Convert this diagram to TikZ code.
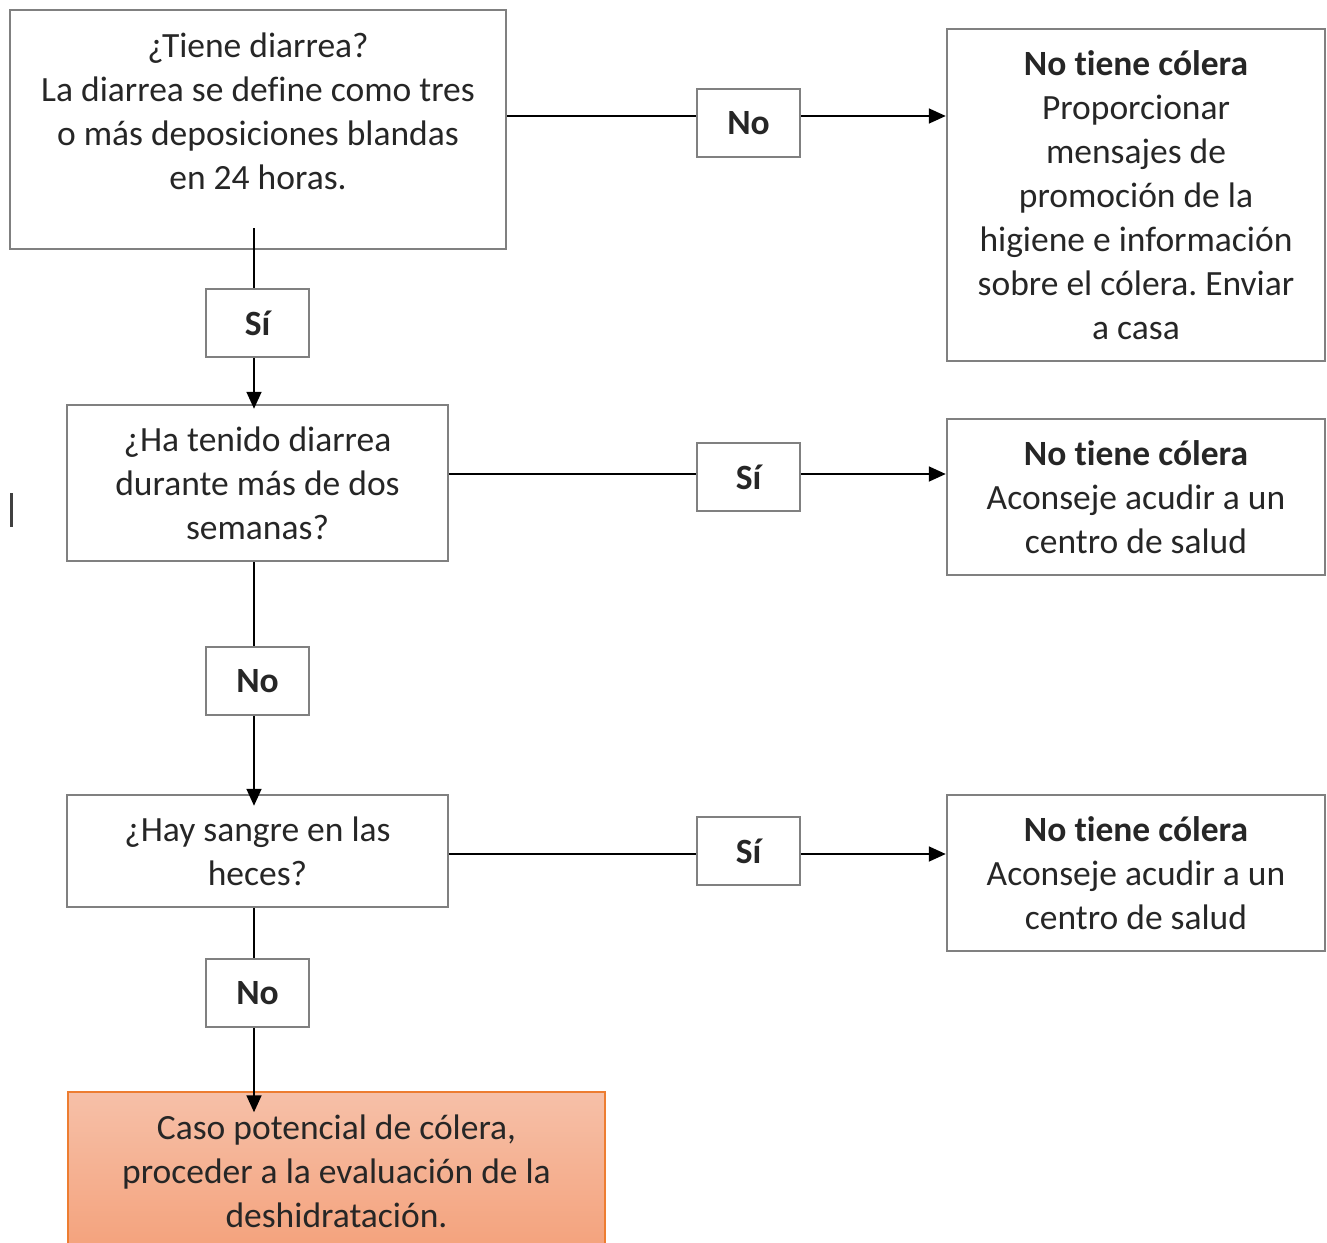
\documentclass[tikz,border=0pt]{standalone}
\usepackage{fontspec}
\setmainfont{Carlito}[Ligatures=NoCommon]
\usetikzlibrary{positioning, arrows.meta}
\definecolor{boxgray}{RGB}{128,128,128}
\definecolor{txtgray}{RGB}{38,38,38}
\definecolor{casotop}{RGB}{246,192,168}
\definecolor{casobot}{RGB}{244,162,124}
\definecolor{casoline}{RGB}{237,125,49}
\frenchspacing

\begin{document}
\begin{tikzpicture}
			[x=1pt, y=-1pt, font={\fontsize{35.5}{44}\selectfont}]
			
			\tikzstyle{question} = [rectangle, draw=boxgray, line width=2.5pt, align=center, text=txtgray, inner sep=0pt]
			
			\tikzstyle{answer} = [rectangle, draw=boxgray, line width=2.5pt, align=center, text=txtgray, inner sep=0pt, minimum width=378pt]
			
			\tikzstyle{tag} = [rectangle, draw=boxgray, line width=2.5pt, minimum width=103pt, minimum height=68pt, inner sep=0pt, font={\fontsize{35.5}{44}\selectfont\bfseries}, text=txtgray]
			
			\tikzstyle{result} = [rectangle, draw=casoline, line width=1.5pt, top color=casotop, bottom color=casobot, align=center, text=txtgray, inner sep=0pt]
			
			\tikzstyle{line} = [line width=1.8pt, black]
			\tikzstyle{arrow} = [line width=1.8pt, black, -{Triangle[length=17pt, width=15pt]}]
			
			\useasboundingbox (0,0) rectangle (1327,1242);
			\clip (0,0) rectangle (1327,1242);
			
			\coordinate (colx) at (254,0);
			
			\node (q1) [question, minimum width=496pt, minimum height=239pt] at (258,129.5) {¿Tiene diarrea?\\La diarrea se define como tres\\o más deposiciones blandas\\en 24 horas.\\[-8pt] \mbox{}};
			\node (q2) [question, minimum width=381pt, minimum height=156pt] at (257.5,483) {¿Ha tenido diarrea\\durante más de dos\\semanas?};
			\node (q3) [question, minimum width=381pt, minimum height=112pt] at (257.5,851) {¿Hay sangre en las\\heces?};
			\node (caso) [result, minimum width=537pt, minimum height=158pt] at (336.5,1171) {Caso potencial de cólera,\\proceder a la evaluación de la\\deshidratación.};
			
			\node (r1) [answer, minimum height=332pt] at (1136,195) {\textbf{No tiene cólera}\\Proporcionar\\mensajes de\\promoción de la\\higiene e información\\sobre el cólera. Enviar\\a casa};
			\node (r2) [answer, minimum height=156pt] at (1136,497) {\textbf{No tiene cólera}\\Aconseje acudir a un\\centro de salud};
			\node (r3) [answer, minimum height=156pt] at (1136,873) {\textbf{No tiene cólera}\\Aconseje acudir a un\\centro de salud};
			
			\node (tno1) [tag] at (748.5,123) {No};
			\node (tsi2) [tag] at (748.5,477) {Sí};
			\node (tsi3) [tag] at (748.5,851) {Sí};
			\node (tsi1) [tag] at (257.5,323) {Sí};
			\node (tno2) [tag] at (257.5,681) {No};
			\node (tno3) [tag] at (257.5,993) {No};
			
			\draw [line] (q1.east |- 0,116) -- (tno1.west |- 0,116);
			\draw [arrow] (tno1.east |- 0,116) -- (r1.west |- 0,116);
			\draw [line] (q2.east |- 0,474) -- (tsi2.west |- 0,474);
			\draw [arrow] (tsi2.east |- 0,474) -- (r2.west |- 0,474);
			\draw [line] (q3.east |- 0,854) -- (tsi3.west |- 0,854);
			\draw [arrow] (tsi3.east |- 0,854) -- (r3.west |- 0,854);
			
			\draw [line] ([yshift=22pt]q1.south -| colx) -- (tsi1.north -| colx);
			\draw [arrow] (tsi1.south -| colx) -- ([yshift=-5pt]q2.north -| colx);
			\draw [line] (q2.south -| colx) -- (tno2.north -| colx);
			\draw [arrow] (tno2.south -| colx) -- ([yshift=-12pt]q3.north -| colx);
			\draw [line] (q3.south -| colx) -- (tno3.north -| colx);
			\draw [arrow] (tno3.south -| colx) -- ([yshift=-21pt]caso.north -| colx);
			
			\draw [line width=2.5pt, black!75] (11.5,493) -- (11.5,527);
			
		\end{tikzpicture}
\end{document}
